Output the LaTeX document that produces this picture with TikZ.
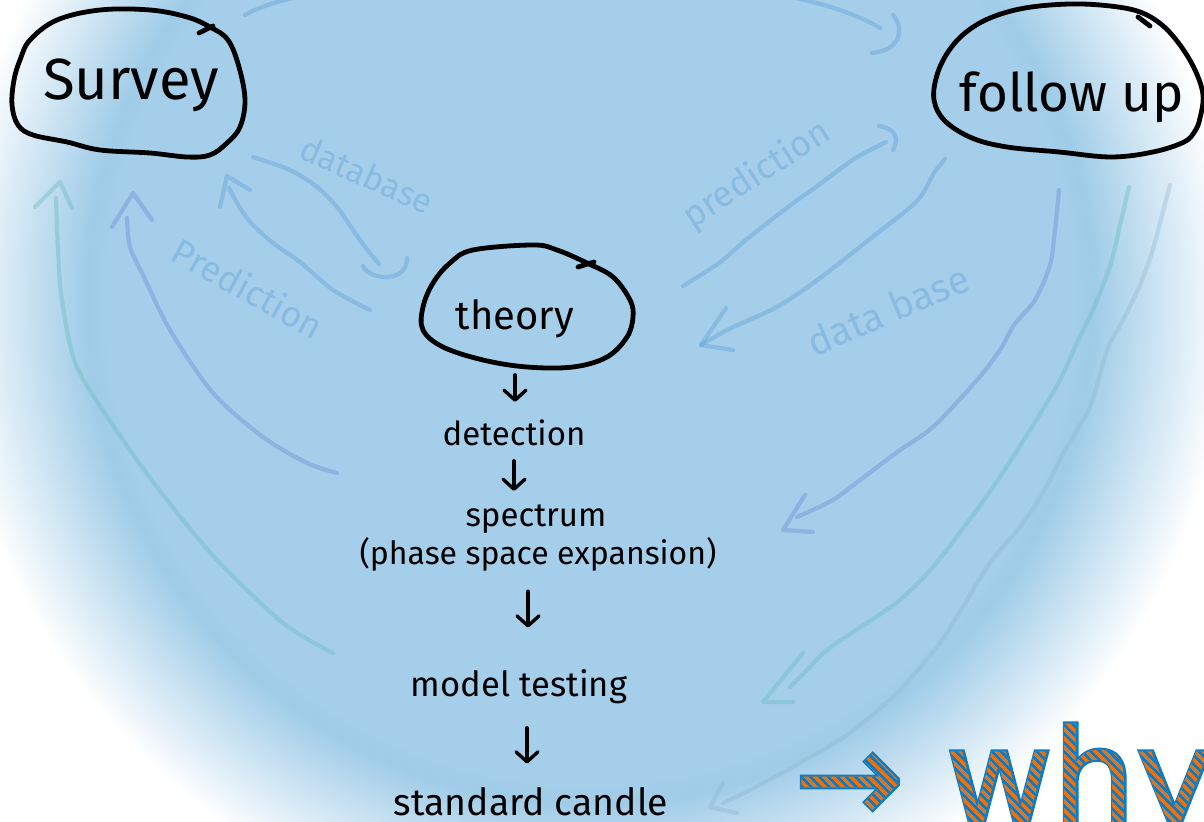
\documentclass[tikz,border=0pt]{standalone}
\usepackage{fontspec}
\setmainfont{Fira Sans}
\newfontfamily\whyfont{DejaVu Sans}
\newfontfamily\whyfontrim[FakeBold=3]{DejaVu Sans}
\usetikzlibrary{arrows.meta}

\definecolor{bgblue}{RGB}{164,206,233}
\definecolor{bgring}{RGB}{160,204,232}
\definecolor{faintblue}{RGB}{100,160,218}
\definecolor{arcblue}{RGB}{110,140,218}
\definecolor{arcteal}{RGB}{110,190,200}
\definecolor{arcpale}{RGB}{140,180,205}
\definecolor{whyblue}{RGB}{13,124,196}
\definecolor{whyorange}{RGB}{232,115,20}

% soft disc behind the whole sketch (25bp = rim of the filled circle)
\pgfdeclareradialshading{skydisc}{\pgfpoint{0bp}{0bp}}{%
  color(0bp)=(bgblue); color(18.9bp)=(bgblue); color(19.7bp)=(bgring);
  color(25bp)=(white); color(50bp)=(white)}

\begin{document}
\begin{tikzpicture}[x=0.5pt,y=-0.5pt,
  hw/.style={inner sep=0pt, anchor=base, text=black},
  blob/.style={draw=black, line width=2.4pt, line cap=round, line join=round},
  down/.style={draw=black, line width=1.7pt, line cap=round,
    -{Straight Barb[length=5pt,width=11pt,round]}},
  faint/.style={draw=faintblue, draw opacity=0.42, line width=2.1pt,
    line cap=round, line join=round},
  arcA/.style={faint, draw=arcblue, draw opacity=0.4},
  arcB/.style={faint, draw=arcteal, draw opacity=0.45},
  arcC/.style={faint, draw=arcpale, draw opacity=0.35},
  lbl/.style={inner sep=0pt, text=faintblue, text opacity=0.42},
  whyfnt/.style={font=\whyfont\fontsize{65.5}{70}\selectfont,
    anchor=base west, inner sep=0pt}
]
\clip (0,0) rectangle (1204,822);
\fill[white] (0,0) rectangle (1204,822);
\shade[shading=skydisc] (590,300) circle (640);

% ---------- main labels ----------
\node[hw, font=\fontsize{29}{34}\selectfont] (survey) at (131,100) {Survey};
\node[hw, font=\fontsize{26.5}{32}\selectfont] (followup) at (1072,112) {follow up};
\node[hw, font=\fontsize{20}{24}\selectfont] (theory) at (515,330) {theory};
\node[hw, font=\fontsize{16.5}{19}\selectfont] (detection) at (514,446) {detection};
\node[hw, font=\fontsize{16.5}{20}\selectfont] (spectrum) at (536,527) {spectrum};
\node[hw, font=\fontsize{16}{19}\selectfont] (phase) at (538,565) {(phase space expansion)};
\node[hw, font=\fontsize{17.3}{21}\selectfont] (model) at (519,697) {model testing};
\node[hw, font=\fontsize{18.7}{22}\selectfont] (candle) at (531,815) {standard candle};

% ---------- outlines around the three stations ----------
\draw[blob] plot[smooth cycle, tension=0.6] coordinates {
  (30,40) (57,20) (100,10) (150,10) (187,17) (210,27) (228,40) (239,67)
  (245,100) (240,127) (227,143) (210,155) (187,157) (150,153) (100,150)
  (67,142) (33,135) (18,125) (12,105) (14,80) (20,60)};
\draw[blob] (199,33) -- (213,26);

\draw[blob] plot[smooth cycle, tension=0.6] coordinates {
  (934,100) (937,75) (948,52) (965,33) (990,18) (1025,8) (1070,4) (1110,6)
  (1140,12) (1162,25) (1180,45) (1195,70) (1203,95) (1200,118) (1195,131)
  (1184,142) (1153,152) (1111,157) (1059,152) (1007,147) (972,138) (945,121)};
\draw[blob] (1138,17) -- (1150,26);

\draw[blob] plot[smooth cycle, tension=0.6] coordinates {
  (473,250) (533,245) (557,250) (587,263) (613,277) (630,300) (633,317)
  (627,337) (607,357) (573,367) (527,367) (483,360) (443,347) (423,330)
  (423,307) (433,283) (450,263)};
\draw[blob] (578,267) -- (594,262);

% ---------- chain of steps below theory ----------
\draw[down, shorten <=18pt, shorten >=9pt] (theory.south) -- (theory.south |- detection.north);
\draw[down, shorten <=7pt, shorten >=7pt] (detection.south) -- (detection.south |- spectrum.north);
\draw[down, shorten <=9.5pt, shorten >=21pt] ([xshift=-5pt]phase.south) -- ([xshift=-5pt]phase.south |- model.north);
\draw[down, shorten <=11.5pt, shorten >=11.5pt] ([xshift=4pt]model.south) -- ([xshift=4pt]model.south |- candle.north);

% ---------- connector ends ----------
\coordinate (sv-ne) at (245,15);
\coordinate (fu-nw) at (880,28);
\coordinate (sv-se) at (253,157);
\coordinate (th-nw) at (379,264);
\coordinate (th-w)  at (370,310);
\coordinate (sv-s)  at (229,188);
\coordinate (sv-tip) at (227,176);
\coordinate (th-e)  at (683,286);
\coordinate (fu-sw) at (886,142);
\coordinate (fu-s)  at (945,159);
\coordinate (th-se) at (701,345);

% survey -> follow up, over the top
\draw[faint] (sv-ne) .. controls (330,-35) and (760,-45) .. (fu-nw);
\draw[faint] ([shift={(13,-13)}]fu-nw) .. controls ([shift={(24,0)}]fu-nw)
  and ([shift={(22,22)}]fu-nw) .. ([shift={(-8,25)}]fu-nw);

% survey -> theory (database)
\draw[faint] plot[smooth] coordinates {(sv-se) (290,170) (317,187) (337,207)
  (353,230) (369,252) (th-nw)};
\draw[faint] ([shift={(-16,2)}]th-nw) .. controls ([shift={(-10,16)}]th-nw)
  and ([shift={(28,20)}]th-nw) .. ([shift={(28,-6)}]th-nw);
\node[lbl, rotate=-24, font=\fontsize{17}{20}\selectfont] (dbL) at (367,175) {database};

% theory -> survey (prediction)
\draw[faint] plot[smooth] coordinates {(th-w) (333,290) (300,262) (273,243)
  (252,224) (240,208) (sv-s)};
\draw[faint] ([shift={(-7,31)}]sv-tip) -- (sv-tip) -- ([shift={(23,14)}]sv-tip);
\node[lbl, rotate=-29, font=\fontsize{18}{21}\selectfont] (prL) at (248,288) {Prediction};

% theory -> follow up (prediction)
\draw[faint] plot[smooth] coordinates {(th-e) (719,263) (747,239) (792,204)
  (816,187) (854,159) (fu-sw)};
\draw[faint] ([shift={(-7,-16)}]fu-sw) .. controls ([shift={(8,-14)}]fu-sw)
  and ([shift={(14,-4)}]fu-sw) .. ([shift={(7,8)}]fu-sw);
\node[lbl, rotate=33, font=\fontsize{18}{21}\selectfont] (prR) at (757,175) {prediction};

% follow up -> theory (data base)
\draw[faint] plot[smooth] coordinates {(fu-s) (934,173) (917,201) (875,235)
  (816,281) (775,308) (729,329) (th-se)};
\draw[faint] ([shift={(25,-37)}]th-se) -- (th-se) -- ([shift={(32,5)}]th-se);
\node[lbl, rotate=23, font=\fontsize{19.5}{23}\selectfont] (dbR) at (888,310) {data base};

% ---------- long return arcs ----------
\coordinate (o1s) at (337,473);  \coordinate (o1e) at (127,218);  \coordinate (o1t) at (133,193);
\coordinate (o2s) at (333,653);  \coordinate (o2e) at (56,198);   \coordinate (o2t) at (60,182);
\coordinate (o3s) at (1059,190); \coordinate (o3e) at (797,517);  \coordinate (o3t) at (783,530);
\coordinate (o4s) at (1129,187); \coordinate (o4e) at (790,687);  \coordinate (o4t) at (763,702);
\coordinate (o5s) at (1170,185); \coordinate (o5e) at (723,803);  \coordinate (o5t) at (710,807);

\draw[arcA] plot[smooth] coordinates {(o1s) (307,463) (263,437) (213,393)
  (170,330) (143,275) (130,247) (o1e)};
\draw[arcA] ([shift={(-21,34)}]o1t) -- (o1t) -- ([shift={(19,27)}]o1t);

\draw[arcB] plot[smooth] coordinates {(o2s) (283,623) (217,560) (167,500)
  (123,440) (77,367) (62,300) (58,250) (o2e)};
\draw[arcB] ([shift={(-25,25)}]o2t) -- (o2t) -- ([shift={(12,26)}]o2t);

\draw[arcA] plot[smooth] coordinates {(o3s) (1055,230) (1050,265) (1035,300)
  (1014,325) (1000,350) (977,380) (933,427) (900,450) (860,480) (833,500) (o3e)};
\draw[arcA] ([shift={(22,-35)}]o3t) -- (o3t) -- ([shift={(30,2)}]o3t);

\draw[arcB] plot[smooth] coordinates {(o4s) (1120,225) (1111,263) (1095,305)
  (1077,343) (1060,380) (1040,414) (1000,477) (967,523) (933,567) (900,600)
  (867,623) (827,650) (807,670) (o4e)};
\draw[arcB] ([shift={(40,-49)}]o4t) -- (o4t) -- ([shift={(30,0)}]o4t);

\draw[arcC] plot[smooth] coordinates {(o5s) (1162,215) (1153,249) (1140,285)
  (1122,322) (1107,350) (1090,407) (1065,450) (1043,493) (1020,527)
  (990,563) (953,623) (940,643) (900,690) (850,733) (800,763) (750,790) (o5e)};
\draw[arcC] ([shift={(13,-24)}]o5t) -- (o5t) -- ([shift={(27,6)}]o5t);

% ---------- striped "why": blue rim, orange body, blue hatching ----------
\node[whyfnt, font=\whyfontrim\fontsize{65.5}{70}\selectfont, text=whyblue] (whyrim) at (794,823) {→ why};
\node[whyfnt, text=whyorange] (why) at (794,823) {→ why};
\begin{scope}
  \clip \foreach \k in {0,...,64} {(650+9*\k,690) -- ++(3.6,0) -- ++(140,140) -- ++(-3.6,0) -- cycle};
  \node[whyfnt, text=whyblue] (whystripes) at (794,823) {→ why};
\end{scope}
\end{tikzpicture}
\end{document}
